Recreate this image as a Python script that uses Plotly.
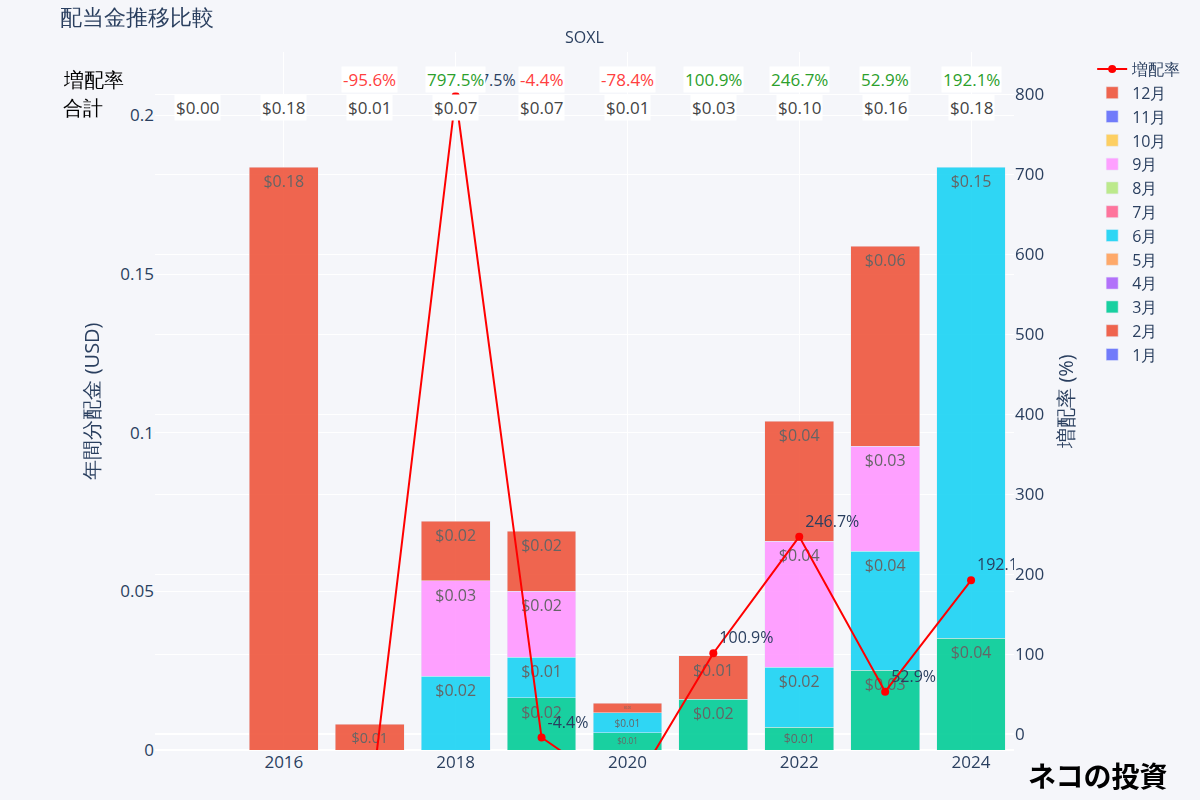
import plotly.graph_objects as go
from plotly.subplots import make_subplots

years = [2015, 2016, 2017, 2018, 2019, 2020, 2021, 2022, 2023, 2024]
months = ["1月", "2月", "3月", "4月", "5月", "6月", "7月", "8月", "9月", "10月", "11月", "12月"]
colors = ["#636EFA", "#EF553B", "#00CC96", "#AB63FA", "#FFA15A", "#19D3F3",
          "#FF6692", "#B6E880", "#FF97FF", "#FECB52", "#636EFA", "#EF553B"]

# monthly dividends per year (USD); None = no payment
div_mar = [None, None, None, None, 0.0164, 0.0054, 0.0160, 0.0072, 0.0252, 0.0353]
div_jun = [None, None, None, 0.0233, 0.0129, 0.0063, None, 0.0189, 0.0375, 0.1483]
div_sep = [None, None, None, 0.0300, 0.0208, None, None, 0.0397, 0.0331, None]
div_dec = [None, 0.1836, 0.0081, 0.0188, 0.0189, 0.0031, 0.0137, 0.0378, 0.0630, None]
empty = [None] * len(years)

monthly = {
    "1月": empty, "2月": empty, "3月": div_mar, "4月": empty, "5月": empty,
    "6月": div_jun, "7月": empty, "8月": empty, "9月": div_sep, "10月": empty,
    "11月": empty, "12月": div_dec,
}

totals = [0.00, 0.18, 0.01, 0.07, 0.07, 0.01, 0.03, 0.10, 0.16, 0.18]
growth_years = [2017, 2018, 2019, 2020, 2021, 2022, 2023, 2024]
growth = [-95.6, 797.5, -4.4, -78.4, 100.9, 246.7, 52.9, 192.1]

fig = make_subplots(specs=[[{"secondary_y": True}]])

for m, c in zip(months, colors):
    vals = monthly[m]
    fig.add_trace(go.Bar(
        x=years, y=vals, name=m, marker_color=c, opacity=0.9,
        texttemplate="$%{y:.2f}", textposition="inside",
        textfont=dict(size=16, color="#555"),
    ), secondary_y=False)

fig.add_trace(go.Scatter(
    x=growth_years, y=growth, name="増配率", mode="lines+markers+text",
    line=dict(color="red", width=2), marker=dict(size=8, color="red"),
    text=[f"{g:.1f}%" for g in growth], textposition="top right",
    textfont=dict(size=16, color="#2a3f5f"),
), secondary_y=True)

fig.update_layout(
    width=1200, height=800,
    barmode="stack",
    template="plotly",
    paper_bgcolor="#f5f6fa",
    plot_bgcolor="#f5f6fa",
    font=dict(size=17, color="#2a3f5f"),
    title=dict(text="配当金推移比較", x=0.05, xanchor="left", y=0.979, yanchor="middle",
               yref="container", font=dict(size=22)),
    margin=dict(l=155, r=186, t=52, b=50, autoexpand=False),
    legend=dict(x=1.091, y=1.0, xanchor="left", yanchor="top", font=dict(size=16),
                bgcolor="rgba(0,0,0,0)"),
    bargap=0.2,
)

fig.add_annotation(text="SOXL", x=0.5, y=1.0, xref="paper", yref="paper",
                   xanchor="center", yanchor="bottom", yshift=2,
                   showarrow=False, font=dict(size=16, color="#2a3f5f"))
fig.add_annotation(text="増配率", x=-0.109, y=0.961, xref="paper", yref="paper",
                   xanchor="left", yanchor="middle", showarrow=False,
                   font=dict(size=20, color="black"))
fig.add_annotation(text="合計", x=-0.109, y=0.920, xref="paper", yref="paper",
                   xanchor="left", yanchor="middle", showarrow=False,
                   font=dict(size=20, color="black"))
for yr, g in zip(growth_years, growth):
    fig.add_annotation(text=f"{g:.1f}%", x=yr, y=0.961, xref="x", yref="paper",
                       xanchor="center", yanchor="middle", showarrow=False,
                       bgcolor="white",
                       font=dict(size=17, color="#2ca02c" if g >= 0 else "#ff4040"))
for yr, t in zip(years, totals):
    fig.add_annotation(text=f"${t:.2f}", x=yr, y=0.920, xref="x", yref="paper",
                       xanchor="center", yanchor="middle", showarrow=False,
                       bgcolor="white", font=dict(size=17, color="#444"))
fig.add_annotation(text="<b>ネコの投資</b>", x=1.18, y=-0.036, xref="paper", yref="paper",
                   xanchor="right", yanchor="middle", showarrow=False,
                   font=dict(size=28, color="black", family="Noto Sans CJK JP"))

fig.update_xaxes(range=[2014.5, 2024.5], dtick=2, gridcolor="white", showgrid=True,
                 domain=[0, 1])
fig.update_yaxes(title_text="年間分配金 (USD)", range=[0, 0.22], dtick=0.05,
                 gridcolor="white", zerolinecolor="white", secondary_y=False)
fig.update_yaxes(title_text="増配率 (%)", range=[-20, 852.5], dtick=100,
                 gridcolor="white", zerolinecolor="white", showgrid=True, secondary_y=True)

fig.write_html("out.html", config={"displayModeBar": False},
               post_script="document.body.style.margin='0';document.body.style.overflow='hidden';")
